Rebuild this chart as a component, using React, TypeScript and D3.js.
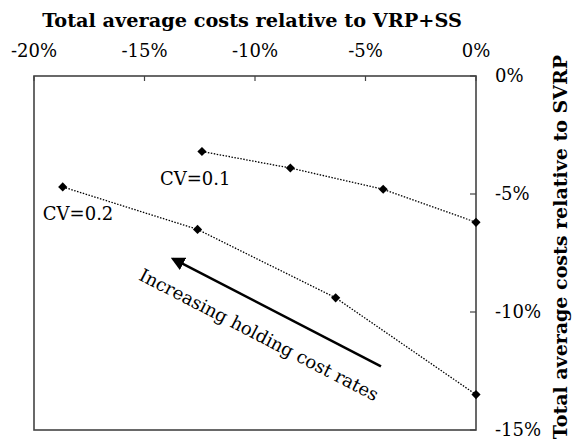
import React from "react";
import * as d3 from "d3";

// tick values (percent)
const xTicks = [-20, -15, -10, -5, 0];
const yTicks = [0, -5, -10, -15];

// series: relative cost vs VRP+SS (x) and vs SVRP (y)
const cv01X = [-12.4, -8.4, -4.2, 0];
const cv01Y = [-3.2, -3.9, -4.8, -6.2];
const cv02X = [-18.7, -12.6, -6.35, 0];
const cv02Y = [-4.7, -6.5, -9.4, -13.5];

const seriesLabels = ["CV=0.1", "CV=0.2"];
const labelPos = [
  [-14.3, -4.62],
  [-19.6, -6.1],
];
// arrow from tail to head, in data coordinates
const arrowFrom = [-4.3, -12.3];
const arrowTo = [-13.7, -7.75];
const arrowText = "Increasing holding cost rates";
const arrowTextPos = [-9.95, -11.2];

const W = 576;
const H = 442;
const FONT = "'DejaVu Serif', serif";

const App = () => {
  const x = d3.scaleLinear().domain([-20, 0]).range([34, 476]);
  const y = d3.scaleLinear().domain([0, -15]).range([76, 430]);

  const series = [
    cv01X.map((v, i) => [x(v), y(cv01Y[i])] as [number, number]),
    cv02X.map((v, i) => [x(v), y(cv02Y[i])] as [number, number]),
  ];
  const path = d3.line();
  const diamond = d3.symbol(d3.symbolSquare, 42)();

  const ax0 = x(arrowFrom[0]);
  const ay0 = y(arrowFrom[1]);
  const ax1 = x(arrowTo[0]);
  const ay1 = y(arrowTo[1]);
  const angle = (Math.atan2(ay0 - ay1, ax0 - ax1) * 180) / Math.PI;

  return (
    <svg
      width={W}
      height={H}
      style={{ position: "absolute", left: 0, top: 0, background: "#fff" }}
      fontFamily={FONT}
    >
      <defs>
        <marker
          id="head"
          viewBox="0 0 10 10"
          refX="8"
          refY="5"
          markerWidth="5.5"
          markerHeight="5.5"
          orient="auto"
        >
          <path d="M0,0 L10,5 L0,10 z" fill="#000" />
        </marker>
      </defs>

      {/* title top */}
      <text x={252} y={27} textAnchor="middle" fontSize={19.3} fontWeight="bold">
        Total average costs relative to VRP+SS
      </text>

      {/* frame */}
      <rect
        x={x(-20)}
        y={y(0)}
        width={x(0) - x(-20)}
        height={y(-15) - y(0)}
        fill="none"
        stroke="#444"
        strokeWidth={1.6}
      />

      {/* top ticks */}
      {xTicks.map((t) => (
        <g key={"xt" + t}>
          <line x1={x(t)} x2={x(t)} y1={y(0)} y2={y(0) + 5} stroke="#444" strokeWidth={1.2} />
          <text x={x(t)} y={57} textAnchor="middle" fontSize={18}>
            {t + "%"}
          </text>
        </g>
      ))}

      {/* right ticks */}
      {yTicks.map((t) => (
        <g key={"yt" + t}>
          <line x1={x(0) - 6} x2={x(0)} y1={y(t)} y2={y(t)} stroke="#444" strokeWidth={1.2} />
          <text x={495} y={y(t)} dy="0.35em" fontSize={18}>
            {t + "%"}
          </text>
        </g>
      ))}

      {/* right axis title */}
      <text
        transform={`translate(567,${y(-7.25)}) rotate(-90)`}
        textAnchor="middle"
        fontSize={19}
        fontWeight="bold"
      >
        Total average costs relative to SVRP
      </text>

      {/* series */}
      {series.map((pts, i) => (
        <g key={"s" + i}>
          <path
            d={path(pts) || ""}
            fill="none"
            stroke="#000"
            strokeWidth={1.3}
            strokeDasharray="1.5,1.5"
          />
          {pts.map((p, j) => (
            <path key={j} d={diamond || ""} transform={`translate(${p[0]},${p[1]}) rotate(45)`} fill="#000" />
          ))}
          <text x={x(labelPos[i][0])} y={y(labelPos[i][1])} fontSize={18}>
            {seriesLabels[i]}
          </text>
        </g>
      ))}

      {/* annotation arrow */}
      <line
        x1={ax0}
        y1={ay0}
        x2={ax1}
        y2={ay1}
        stroke="#000"
        strokeWidth={2.5}
        markerEnd="url(#head)"
      />
      <text
        transform={`translate(${x(arrowTextPos[0])},${y(arrowTextPos[1])}) rotate(${angle})`}
        textAnchor="middle"
        fontSize={18}
      >
        {arrowText}
      </text>
    </svg>
  );
};

export default App;
